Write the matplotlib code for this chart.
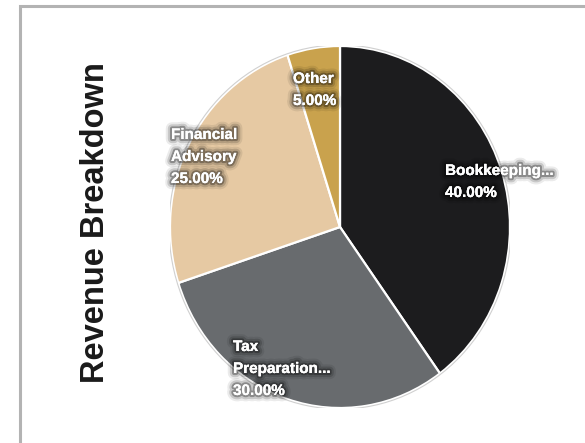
import matplotlib.pyplot as plt
import matplotlib.patheffects as pe
from matplotlib.patches import Rectangle

# --- DATA ---
categories = ["Bookkeeping...", "Tax\nPreparation...", "Financial\nAdvisory", "Other"]
values = [40.0, 30.0, 25.0, 5.0]
colors = ["#1c1c1e", "#686b6e", "#e6c9a3", "#c9a24d"]
title = "Revenue Breakdown"

# label anchor (x of left edge, y of first line centre) in pixels from top-left
label_pos = [(445, 171), (233, 347), (171, 135), (293, 79)]

W, H = 585, 443
plt.rcParams['font.family'] = ['Liberation Sans', 'DejaVu Sans']

fig = plt.figure(figsize=(W / 100, H / 100), dpi=100)
fig.patch.set_facecolor("white")

# outer frame (runs past right/bottom edges)
fig.patches.append(Rectangle((20 / W, -0.1), 1.2, (H - 6) / H + 0.1,
                             transform=fig.transFigure, fill=False,
                             edgecolor="#b3b3b3", linewidth=2.2))

# pie axes: ellipse spanning x 170..510, y 46..408
left, right, top, bottom = 170, 510, 46, 408
ax = fig.add_axes([left / W, (H - bottom) / H, (right - left) / W, (bottom - top) / H])
wedges, _ = ax.pie(values, colors=colors, startangle=90, counterclock=False,
                   radius=1.0, wedgeprops=dict(edgecolor="white", linewidth=1.6))
ax.set_xlim(-1.0, 1.0)
ax.set_ylim(-1.0, 1.0)
ax.set_aspect("auto")
ax.axis("off")

# faint outline around the pie
outline = plt.Circle((0, 0), 1.006, fill=False, edgecolor="#d0d0d0", linewidth=0.8)
ax.add_patch(outline)

# labels: white bold with dark, soft glow
glow = [pe.withStroke(linewidth=9, foreground=(0, 0, 0, 0.08)),
        pe.withStroke(linewidth=6, foreground=(0, 0, 0, 0.15)),
        pe.withStroke(linewidth=3, foreground=(0, 0, 0, 0.3)),
        pe.Normal()]
line_step = 22
for name, val, (px, py) in zip(categories, values, label_pos):
    lines = name.split("\n") + [f"{val:.2f}%"]
    for i, ln in enumerate(lines):
        fig.text(px / W, 1 - (py + i * line_step) / H, ln, color="white",
                 fontsize=11, fontweight="bold", ha="left", va="center",
                 path_effects=glow)

# vertical title
fig.text(96 / W, 1 - 223 / H, title, rotation=90, fontsize=23.5, fontweight="bold",
         color="#1a1a1a", ha="center", va="center")

fig.savefig("out.png", dpi=100)
